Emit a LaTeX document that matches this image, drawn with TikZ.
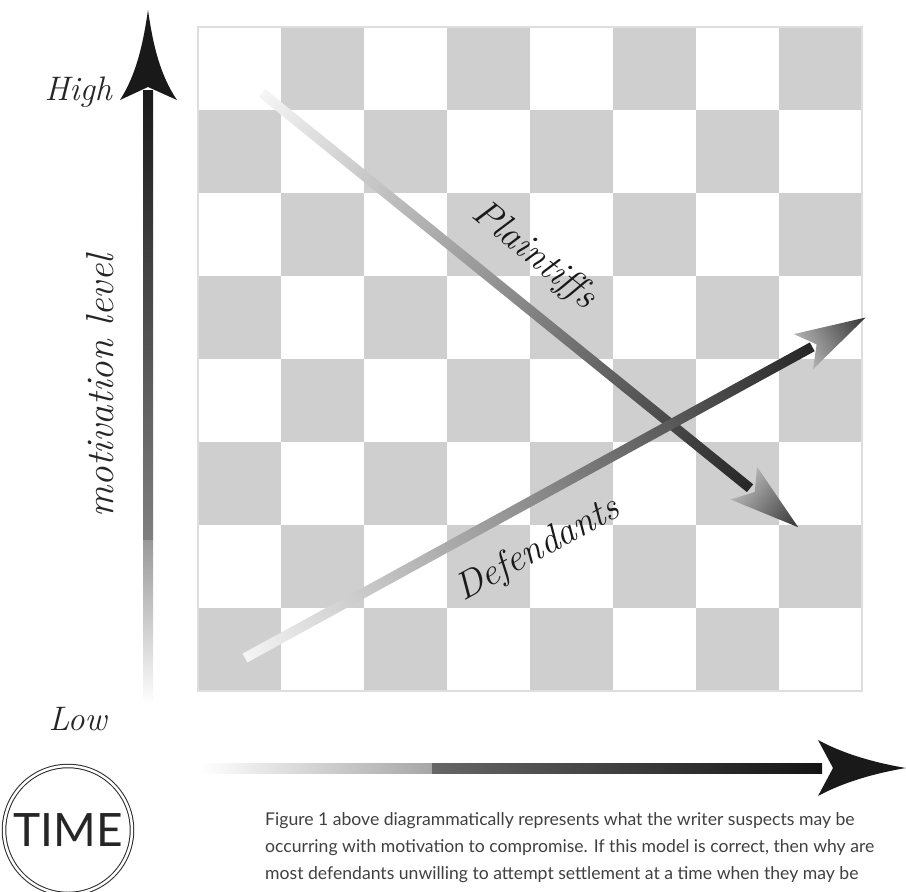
\documentclass[tikz,border=0pt]{standalone}
\usepackage{fontspec}
\newfontfamily\capfont{Lato}
\usetikzlibrary{calc}

\tikzset{
  darksquare/.style={fill=black!19},
  boardline/.style={draw=black!13, line width=2pt},
  axislabel/.style={font=\fontsize{34}{34}\selectfont\itshape, text=black!85, inner sep=0pt},
  partylabel/.style={font=\fontsize{38}{38}\selectfont\itshape, text=black!90, inner sep=0pt},
  captionline/.style={font=\capfont\fontsize{17.6}{17.6}\selectfont, text=black!75, inner sep=0pt, anchor=base west},
  timebadge/.style={circle, draw=black!85, double, double distance=2.5pt, line width=1pt,
    minimum size=128pt, inner sep=0pt, font=\capfont\fontsize{46}{46}\selectfont, text=black!85},
  headfill/.style={fill=black!90}
}

\begin{document}
\begin{tikzpicture}[x=1pt, y=-1pt]
  \useasboundingbox (0,0) rectangle (906,892);

  % checker board
  \foreach \col in {0,...,7}
    \foreach \row in {0,...,7} {
      \pgfmathtruncatemacro{\dark}{mod(\col+\row,2)}
      \ifnum\dark=1
        \fill[darksquare] ({198+83*\col},{27+83*\row}) rectangle ++(83,83);
      \fi
    }
  \draw[boardline] (198,27) rectangle (862,691);

  % axes
  \coordinate (vTop) at (148,90);
  \coordinate (vMid) at (148,540);
  \coordinate (vBase) at (148,705);
  \coordinate (hBase) at (200,768);
  \coordinate (hMid) at (432,768);
  \coordinate (hTop) at (822,768);

  \shade[top color=black!90, bottom color=black!50] ($(vTop)+(-5,0)$) rectangle ($(vMid)+(5,0)$);
  \shade[top color=black!40, bottom color=white] ($(vMid)+(-5,0)$) rectangle ($(vBase)+(5,0)$);
  \fill[headfill] (148,10) .. controls (153,45) and (160,75) .. (177,100) -- (148,87)
    -- (120,100) .. controls (136,75) and (143,45) .. (148,10) -- cycle;

  \shade[left color=white, right color=black!35] ($(hBase)+(0,-5)$) rectangle ($(hMid)+(0,5)$);
  \shade[left color=black!60, right color=black!92] ($(hMid)+(0,-5)$) rectangle ($(hTop)+(0,5)$);
  \fill[headfill] (906,768) .. controls (870,762) and (840,752) .. (818,740) -- (833,768)
    -- (818,796) .. controls (840,784) and (870,774) .. (906,768) -- cycle;

  \node[axislabel, anchor=base east] (high) at (112,100) {High};
  \node[axislabel, anchor=base east] (low) at (107,730) {Low};
  \node[axislabel, font=\fontsize{39}{39}\selectfont\itshape, rotate=90, anchor=base] (level) at (113,386) {motivation level};

  % plaintiffs and defendants
  \coordinate (plStart) at (262,93);
  \coordinate (dfStart) at (245,658);

  \begin{scope}[transform canvas={shift={(plStart)}, rotate=-39}]
    \shade[left color=black!30, right color=black!80] (620,-21) -- (690,0) -- (620,21) -- (634,0) -- cycle;
    \shade[left color=black!4, right color=black!85] (0,-5) rectangle (628,5);
  \end{scope}

  \begin{scope}[transform canvas={shift={(dfStart)}, rotate=28.75}]
    \shade[left color=black!30, right color=black!80] (637,-20) -- (708,0) -- (637,20) -- (652,0) -- cycle;
    \shade[left color=black!4, right color=black!85] (0,-5) rectangle (647,5);
  \end{scope}

  \node[partylabel, rotate=-39] (plaintiffs) at (534,256) {Plaintiffs};
  \node[partylabel, rotate=28.75] (defendants) at (538,550) {Defendants};

  % time badge and caption
  \node[timebadge] (time) at (68,830) {TIME};

  \node[captionline] (cap1) at (265,825) {Figure 1 above diagrammatically represents what the writer suspects may be};
  \node[captionline] (cap2) at (265,852) {occurring with motivation to compromise. If this model is correct, then why are};
  \node[captionline] (cap3) at (265,879) {most defendants unwilling to attempt settlement at a time when they may be};
\end{tikzpicture}
\end{document}
